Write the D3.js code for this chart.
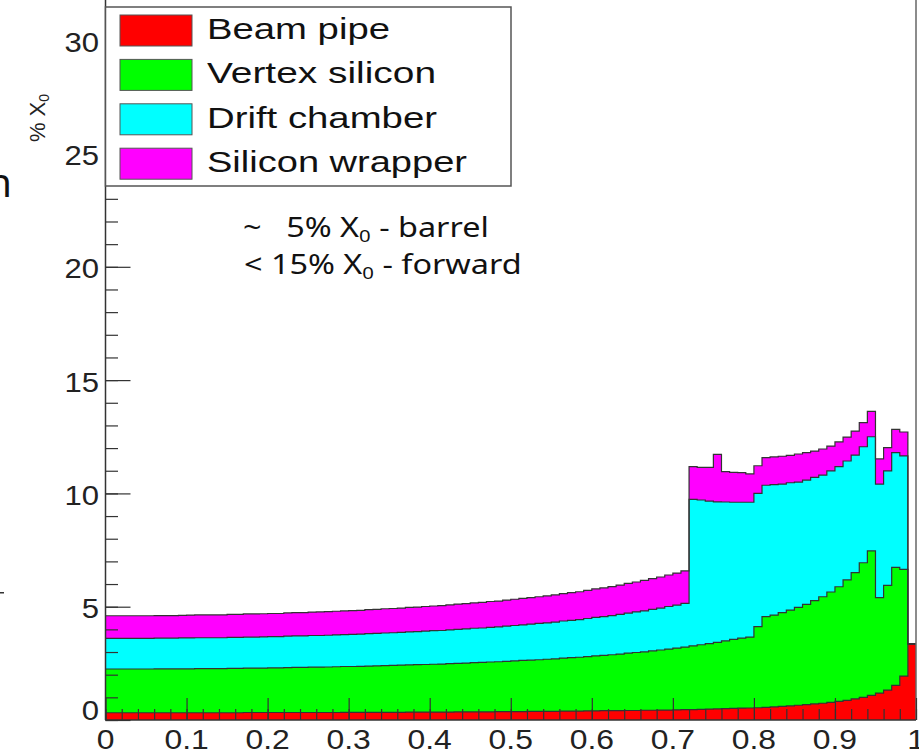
<!DOCTYPE html>
<html lang="en">
<head>
<meta charset="UTF-8">
<script src="https://d3js.org/d3.v7.min.js"></script>
<title>Material budget</title>
<style>
  body { margin: 0; background: #fff; }
  svg { display: block; }
</style>
</head>
<body>
<script>
// per-layer material (% X0) in 100 bins of 0.01 from 0 to 1
var beamPipe = [
  0.32,0.32,0.32,0.32,0.32,0.32,0.32,0.32,0.32,0.32,
  0.32,0.32,0.32,0.32,0.32,0.32,0.32,0.33,0.33,0.33,
  0.33,0.33,0.33,0.33,0.33,0.33,0.33,0.33,0.33,0.34,
  0.34,0.34,0.34,0.34,0.34,0.34,0.34,0.35,0.35,0.35,
  0.35,0.35,0.35,0.36,0.36,0.36,0.36,0.36,0.37,0.37,
  0.37,0.37,0.38,0.38,0.38,0.38,0.39,0.39,0.39,0.40,
  0.40,0.41,0.41,0.41,0.42,0.42,0.43,0.43,0.44,0.44,
  0.45,0.46,0.46,0.47,0.48,0.49,0.50,0.51,0.52,0.53,
  0.54,0.56,0.58,0.60,0.62,0.65,0.68,0.71,0.74,0.78,
  0.82,0.87,0.93,1.00,1.09,1.19,1.32,1.53,1.94,3.36
];
var vertexSilicon = [
  1.93,1.93,1.93,1.93,1.93,1.93,1.94,1.94,1.94,1.94,
  1.94,1.95,1.95,1.95,1.95,1.96,1.96,1.96,1.96,1.96,
  1.97,1.97,1.98,1.99,1.99,2.00,2.00,2.01,2.02,2.02,
  2.02,2.03,2.04,2.05,2.06,2.07,2.08,2.08,2.09,2.10,
  2.11,2.12,2.14,2.14,2.15,2.17,2.18,2.20,2.20,2.22,
  2.24,2.26,2.26,2.28,2.30,2.32,2.34,2.36,2.38,2.40,
  2.43,2.44,2.47,2.50,2.53,2.56,2.58,2.62,2.65,2.69,
  2.72,2.76,2.81,2.85,2.89,2.94,2.99,3.05,3.09,3.13,
  3.58,4.00,4.05,4.14,4.23,4.32,4.42,4.56,4.70,4.87,
  5.06,5.31,5.57,5.94,6.37,4.21,4.62,5.21,4.71,0
];
var driftChamber = [
  1.35,1.35,1.35,1.35,1.35,1.35,1.35,1.35,1.35,1.36,
  1.36,1.36,1.36,1.36,1.36,1.37,1.37,1.37,1.37,1.38,
  1.38,1.38,1.39,1.39,1.39,1.40,1.40,1.40,1.41,1.41,
  1.42,1.42,1.43,1.43,1.44,1.44,1.45,1.46,1.46,1.47,
  1.48,1.48,1.49,1.50,1.51,1.52,1.52,1.53,1.54,1.55,
  1.56,1.57,1.59,1.60,1.61,1.62,1.64,1.65,1.66,1.68,
  1.70,1.71,1.73,1.75,1.77,1.79,1.81,1.83,1.85,1.88,
  1.90,1.93,6.47,6.39,6.29,6.20,6.13,6.05,6.00,5.95,
  5.88,5.80,5.76,5.67,5.62,5.53,5.49,5.44,5.37,5.34,
  5.30,5.25,5.19,5.12,5.04,5.01,5.05,5.06,5.01,0
];
var siliconWrapper = [
  1.00,1.00,1.00,1.00,1.00,1.00,1.00,1.00,1.00,1.00,
  1.01,1.01,1.01,1.01,1.01,1.01,1.01,1.02,1.02,1.02,
  1.02,1.02,1.03,1.03,1.03,1.03,1.04,1.04,1.04,1.05,
  1.05,1.05,1.06,1.06,1.07,1.07,1.07,1.08,1.08,1.09,
  1.09,1.10,1.10,1.11,1.12,1.12,1.13,1.14,1.14,1.15,
  1.16,1.17,1.17,1.18,1.19,1.20,1.21,1.22,1.23,1.24,
  1.26,1.27,1.28,1.29,1.31,1.32,1.34,1.36,1.37,1.39,
  1.41,1.43,1.44,1.44,1.49,2.09,1.34,1.32,1.31,1.25,
  1.22,1.22,1.22,1.23,1.21,1.24,1.21,1.16,1.15,1.10,
  1.09,1.05,1.06,1.06,1.12,1.11,1.03,1.03,1.05,0
];
var layerNames = ["Beam pipe", "Vertex silicon", "Drift chamber", "Silicon wrapper"];
var layerColors = ["#ff0000", "#00ff00", "#00ffff", "#ff00ff"];
var xTickValues = [0, 0.1, 0.2, 0.3, 0.4, 0.5, 0.6, 0.7, 0.8, 0.9, 1];
var xTickLabels = ["0", "0.1", "0.2", "0.3", "0.4", "0.5", "0.6", "0.7", "0.8", "0.9", "1"];
var yTickValues = [0, 5, 10, 15, 20, 25, 30];
var yTickLabels = ["0", "5", "10", "15", "20", "25", "30"];

var W = 919, H = 751;
var plotLeft = 105.5, plotRight = 916, plotBottom = 720, plotTop = -5.1;
var font = "'Liberation Sans', Arial, Helvetica, sans-serif";

var svg = d3.select("body").append("svg").attr("width", W).attr("height", H);
svg.append("rect").attr("width", W).attr("height", H).attr("fill", "#fff");

var x = d3.scaleLinear().domain([0, 1]).range([plotLeft, plotRight]);
var y = d3.scaleLinear().domain([0, 32]).range([plotBottom, plotTop]);

// bin table for the stack, last row closes the final bin at x = 1
var keys = ["beam", "vertex", "drift", "wrapper"];
var rows = beamPipe.map(function(v, i) {
  return {x: i / 100, beam: v, vertex: vertexSilicon[i], drift: driftChamber[i], wrapper: siliconWrapper[i]};
});
rows.push(Object.assign({}, rows[rows.length - 1], {x: 1}));
var series = d3.stack().keys(keys)(rows);

var area = d3.area().curve(d3.curveStepAfter)
  .x(function(d) { return x(d.data.x); })
  .y0(function(d) { return y(d[0]); })
  .y1(function(d) { return y(d[1]); });
var line = d3.line().curve(d3.curveStepAfter)
  .x(function(d) { return x(d.data.x); })
  .y(function(d) { return y(d[1]); });

svg.append("g").selectAll("path").data(series).enter().append("path")
  .attr("d", area)
  .attr("fill", function(d, i) { return layerColors[i]; })
  .attr("shape-rendering", "crispEdges");
svg.append("g").selectAll("path").data(series).enter().append("path")
  .attr("d", line)
  .attr("fill", "none")
  .attr("stroke", "#333")
  .attr("stroke-width", 1.2);

// frame
svg.append("line").attr("x1", plotRight).attr("x2", plotRight).attr("y1", 0).attr("y2", plotBottom)
  .attr("stroke", "#666").attr("stroke-width", 1.5);

// axes, ticks inside
function styleAxis(g) {
  g.selectAll(".tick line").attr("stroke", "#333").attr("stroke-width", 1.2);
  g.select(".domain").remove();
}
svg.append("g").attr("transform", "translate(" + plotLeft + ",0)")
  .call(d3.axisRight(y).tickValues(d3.range(0, 32, 1)).tickSize(12.5).tickFormat(""))
  .call(styleAxis);
svg.append("g").attr("transform", "translate(" + plotLeft + ",0)")
  .call(d3.axisRight(y).tickValues(yTickValues).tickSize(25).tickFormat(""))
  .call(styleAxis);
svg.append("g").attr("transform", "translate(0," + plotBottom + ")")
  .call(d3.axisTop(x).tickValues(d3.range(0, 51).map(function(i) { return i / 50; })).tickSize(11).tickFormat(""))
  .call(styleAxis);
svg.append("g").attr("transform", "translate(0," + plotBottom + ")")
  .call(d3.axisTop(x).tickValues(xTickValues).tickSize(22).tickFormat(""))
  .call(styleAxis);
svg.append("line").attr("x1", plotLeft).attr("x2", plotLeft).attr("y1", 0).attr("y2", plotBottom)
  .attr("stroke", "#333").attr("stroke-width", 1.5);
svg.append("line").attr("x1", plotLeft).attr("x2", plotRight).attr("y1", plotBottom).attr("y2", plotBottom)
  .attr("stroke", "#333").attr("stroke-width", 1.5);

// tick labels (the picture is stretched sideways)
svg.append("g").selectAll("text").data(yTickValues).enter().append("text")
  .attr("transform", function(d) {
    var by = d === 0 ? plotBottom : y(d) + 11.6;
    return "translate(99," + by + ") scale(1.15,1)";
  })
  .attr("text-anchor", "end")
  .attr("font-family", font).attr("font-size", 27).attr("fill", "#222")
  .text(function(d, i) { return yTickLabels[i]; });
svg.append("g").selectAll("text").data(xTickValues).enter().append("text")
  .attr("transform", function(d) { return "translate(" + x(d) + ",749) scale(1.18,1)"; })
  .attr("text-anchor", "middle")
  .attr("font-family", font).attr("font-size", 27).attr("fill", "#222")
  .text(function(d, i) { return xTickLabels[i]; });

// y title
var yt = svg.append("text")
  .attr("transform", "translate(45,118) rotate(-90)")
  .attr("text-anchor", "middle")
  .attr("font-family", font).attr("font-size", 22).attr("fill", "#222");
yt.append("tspan").text("% X");
yt.append("tspan").attr("font-size", 14).attr("dy", 4).text("0");

// legend
svg.append("rect").attr("x", plotLeft).attr("y", 7).attr("width", 511 - plotLeft).attr("height", 179)
  .attr("fill", "#fff").attr("stroke", "#555").attr("stroke-width", 1.5);
var legendWidths = [183, 229, 230, 260];
var leg = svg.append("g").selectAll("g").data(layerNames).enter().append("g")
  .attr("transform", function(d, i) { return "translate(0," + (30.5 + i * 44.4) + ")"; });
leg.append("rect").attr("x", 120).attr("y", -15.5).attr("width", 72).attr("height", 31)
  .attr("fill", function(d, i) { return layerColors[i]; })
  .attr("stroke", "#555").attr("stroke-width", 1);
leg.append("text").attr("x", 207).attr("y", 8.5)
  .attr("font-family", font).attr("font-size", 29).attr("fill", "#111")
  .attr("textLength", function(d, i) { return legendWidths[i]; })
  .attr("lengthAdjust", "spacingAndGlyphs")
  .text(function(d) { return d; });

// slide annotation
var note = "'Noto Sans', 'Open Sans', sans-serif";
var t1 = svg.append("g").attr("transform", "translate(243,237) scale(1.2,1)")
  .append("text").attr("font-family", note).attr("font-size", 27).attr("fill", "#111");
t1.append("tspan").attr("x", 0).text("~");
t1.append("tspan").attr("x", 36).text("5% X");
t1.append("tspan").attr("font-size", 17).attr("dy", 5).text("0");
t1.append("tspan").attr("dy", -5).text(" - barrel");
var t2 = svg.append("g").attr("transform", "translate(244,274) scale(1.2,1)")
  .append("text").attr("font-family", note).attr("font-size", 27).attr("fill", "#111");
t2.append("tspan").attr("x", 0).text("< 15% X");
t2.append("tspan").attr("font-size", 17).attr("dy", 5).text("0");
t2.append("tspan").attr("dy", -5).text(" - forward");

// cut-off slide text at the left edge
svg.append("text").attr("x", 12).attr("y", 197).attr("text-anchor", "end")
  .attr("font-family", note).attr("font-size", 40).attr("fill", "#111").text("n");
svg.append("rect").attr("x", 0).attr("y", 592).attr("width", 4).attr("height", 1.5).attr("fill", "#333");
</script>
</body>
</html>
